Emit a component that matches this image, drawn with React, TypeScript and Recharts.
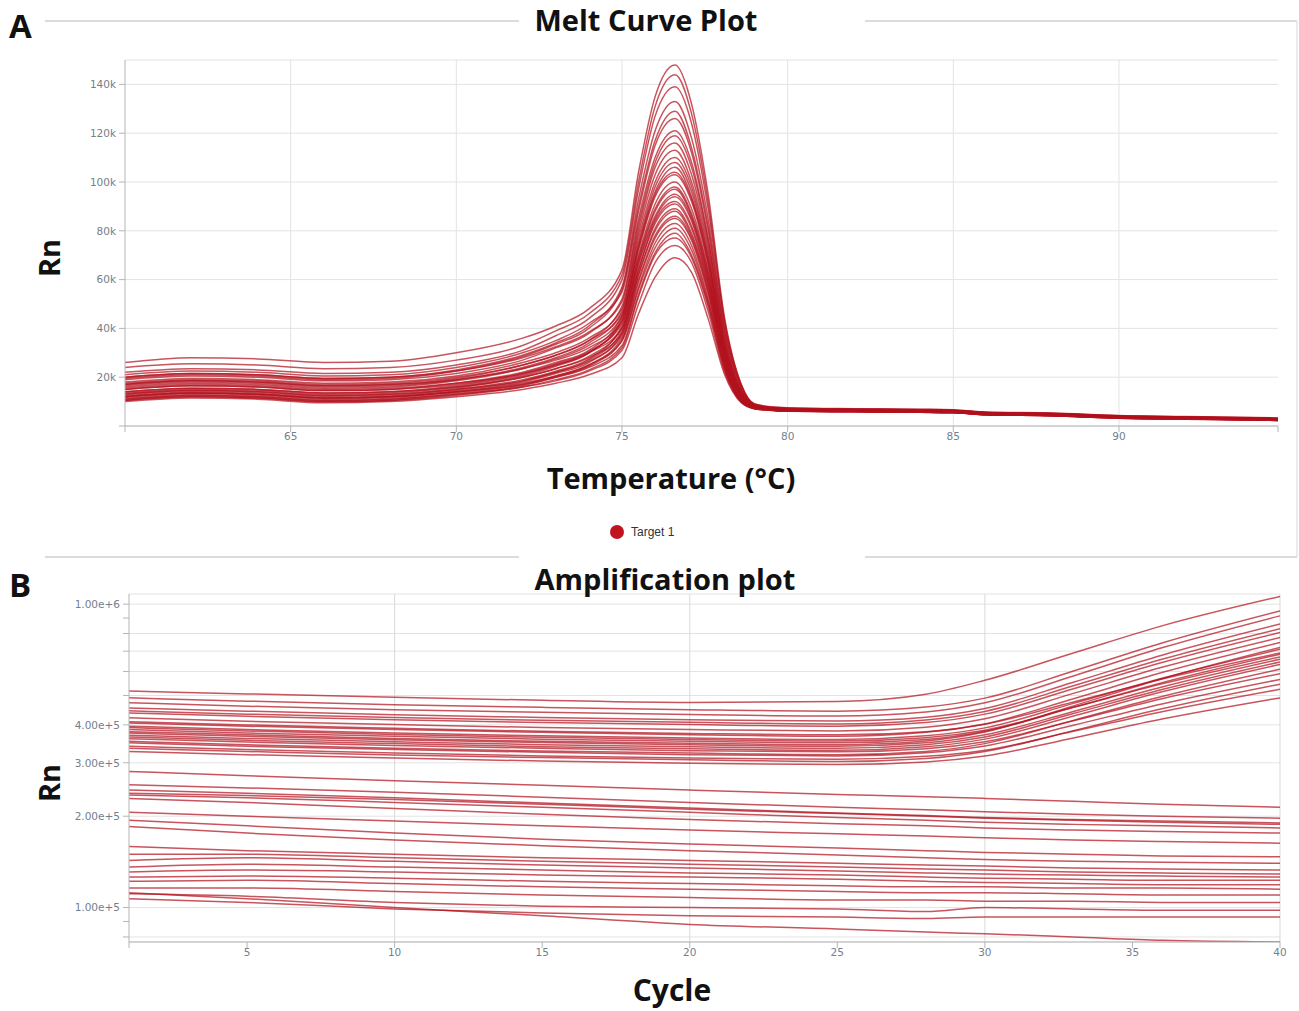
import React from 'react'
import { LineChart, Line, XAxis, YAxis, CartesianGrid, ReferenceLine } from 'recharts'

// ---- Panel A: melt curves (Rn in thousands) ----
const meltTemps = [60, 62, 64, 66, 68, 70, 72, 73, 74, 75, 75.5, 76, 76.6, 77.1, 77.6, 78.1, 78.6, 79, 79.5, 80, 82, 84, 85, 86, 88, 90, 92, 94.8]

const meltCurves = [
  [26, 28, 27.5, 26, 26.5, 30, 36, 41, 48, 64, 104, 135, 148, 132, 95, 44, 17, 9, 7.8, 7.4, 7, 6.8, 6.6, 5.6, 5.2, 4.2, 3.8, 3.2],
  [24, 25.5, 25, 23.5, 24, 27, 33, 39, 46, 62, 100, 131, 144, 128, 92, 43, 17, 9, 7.9, 7.5, 7.1, 6.9, 6.7, 5.7, 5.3, 4.3, 3.9, 3.3],
  [22, 23.5, 23, 21.5, 22, 25, 31, 37, 44, 60, 97, 127, 139, 124, 89, 42, 16, 8.8, 7.6, 7.2, 6.9, 6.7, 6.5, 5.5, 5.1, 4.1, 3.7, 3.1],
  [20, 21.5, 21, 19.5, 20, 23, 29, 34, 41, 57, 93, 121, 133, 118, 85, 40, 16, 8.6, 7.5, 7.1, 6.8, 6.6, 6.4, 5.4, 5.0, 4.0, 3.6, 3.0],
  [19.5, 21, 20.5, 19, 19.5, 22.5, 28.5, 33.5, 40, 56, 90, 117, 129, 114, 82, 39, 15.5, 8.6, 7.5, 7.1, 6.8, 6.6, 6.4, 5.4, 5.0, 4.0, 3.6, 3.0],
  [21, 22.5, 22, 20.5, 21, 24, 30, 35, 42, 55, 88, 115, 126, 112, 80, 38, 15, 8.5, 7.4, 7.0, 6.7, 6.5, 6.3, 5.4, 5.0, 4.0, 3.6, 3.0],
  [19, 20.5, 20, 18.5, 19, 21.5, 27, 32, 38, 52, 85, 110, 121, 108, 77, 36, 14, 8.3, 7.3, 6.9, 6.6, 6.4, 6.2, 5.3, 4.9, 3.9, 3.5, 2.9],
  [20, 21.5, 21, 19.5, 20, 22.5, 28, 32.5, 38.5, 51, 83, 108, 119, 106, 76, 36, 14, 8.3, 7.3, 6.9, 6.6, 6.4, 6.2, 5.3, 4.9, 3.9, 3.5, 2.9],
  [17, 18.5, 18, 16.5, 17, 19.5, 25, 29, 35, 49, 81, 106, 116, 103, 74, 34, 14, 8.2, 7.2, 6.8, 6.5, 6.3, 6.1, 5.2, 4.8, 3.8, 3.4, 2.9],
  [16.5, 18, 17.5, 16, 16.5, 19, 24, 28, 34, 47, 79, 103, 113, 100, 72, 34, 13.5, 8.2, 7.2, 6.8, 6.5, 6.3, 6.1, 5.2, 4.8, 3.8, 3.4, 2.9],
  [18, 19.5, 19, 17.5, 18, 20.5, 26, 30, 36, 48, 77, 100, 110, 98, 70, 33, 13, 8.1, 7.1, 6.7, 6.4, 6.2, 6.0, 5.1, 4.7, 3.8, 3.4, 2.8],
  [17.5, 19, 18.5, 17, 17.5, 20, 25, 29, 35, 46, 75, 98, 108, 96, 69, 32, 13, 8.1, 7.1, 6.7, 6.4, 6.2, 6.0, 5.1, 4.7, 3.8, 3.4, 2.8],
  [15, 16.5, 16, 14.5, 15, 17.5, 22, 26, 31, 45, 74, 96, 106, 94, 68, 32, 13, 8.0, 7.0, 6.6, 6.4, 6.2, 6.0, 5.1, 4.7, 3.7, 3.3, 2.8],
  [13.5, 15, 14.5, 13, 13.5, 16, 20.5, 24.5, 30, 44, 73, 95, 104, 93, 67, 31, 12.5, 7.9, 7.0, 6.6, 6.4, 6.2, 6.0, 5.0, 4.6, 3.7, 3.3, 2.7],
  [16, 17.5, 17, 15.5, 16, 18.5, 23.5, 27.5, 33, 45, 72, 94, 103, 92, 66, 31, 12.5, 7.9, 7.0, 6.6, 6.3, 6.1, 5.9, 5.0, 4.6, 3.7, 3.3, 2.7],
  [14, 15.5, 15, 13.5, 14, 16.5, 21, 25, 30, 43, 70, 91, 100, 89, 64, 30, 12, 7.8, 6.9, 6.5, 6.3, 6.1, 5.9, 5.0, 4.6, 3.6, 3.2, 2.7],
  [17, 18.5, 18, 16.5, 17, 19, 23.5, 27, 32, 43, 69, 89, 98, 87, 63, 29.5, 12, 7.7, 6.9, 6.5, 6.2, 6.0, 5.8, 4.9, 4.5, 3.6, 3.2, 2.6],
  [15, 16.5, 16, 14.5, 15, 17, 21.5, 25.5, 30.5, 42, 68, 88, 97, 86, 62, 29, 12, 7.7, 6.9, 6.5, 6.2, 6.0, 5.8, 4.9, 4.5, 3.6, 3.2, 2.6],
  [12.5, 14, 13.5, 12, 12.5, 15, 19, 22.5, 27.5, 41, 67, 86, 95, 85, 61, 28.5, 11.5, 7.6, 6.8, 6.4, 6.2, 6.0, 5.8, 4.9, 4.5, 3.5, 3.1, 2.6],
  [13, 14.5, 14, 12.5, 13, 15.5, 20, 23.5, 28.5, 40, 66, 85, 94, 84, 60, 28, 11.5, 7.6, 6.8, 6.4, 6.2, 6.0, 5.8, 4.9, 4.5, 3.5, 3.1, 2.6],
  [15.5, 17, 16.5, 15, 15.5, 17.5, 21.5, 25, 30, 40, 64, 84, 92, 82, 59, 27.5, 11, 7.5, 6.7, 6.3, 6.1, 5.9, 5.7, 4.8, 4.4, 3.5, 3.1, 2.5],
  [12, 13.5, 13, 11.5, 12, 14.5, 18.5, 22, 27, 39, 64, 83, 91, 81, 58, 27, 11, 7.5, 6.7, 6.3, 6.1, 5.9, 5.7, 4.8, 4.4, 3.5, 3.1, 2.5],
  [11.5, 13, 12.5, 11, 11.5, 14, 18, 21.5, 26, 38, 62, 81, 89, 79, 57, 26.5, 11, 7.5, 6.7, 6.3, 6.0, 5.8, 5.6, 4.8, 4.4, 3.4, 3.0, 2.5],
  [14, 15.5, 15, 13.5, 14, 16, 20, 23.5, 28, 38, 62, 80, 88, 78, 56, 26, 11, 7.5, 6.7, 6.3, 6.0, 5.8, 5.6, 4.8, 4.4, 3.4, 3.0, 2.5],
  [13, 14.5, 14, 12.5, 13, 15, 18.5, 22, 26.5, 37, 60, 78, 86, 77, 55, 25.5, 10.5, 7.4, 6.6, 6.2, 6.0, 5.8, 5.6, 4.7, 4.3, 3.4, 3.0, 2.4],
  [11, 12.5, 12, 10.5, 11, 13.5, 17, 20.5, 25, 36, 59, 77, 85, 76, 54, 25, 10.5, 7.4, 6.6, 6.2, 6.0, 5.8, 5.6, 4.7, 4.3, 3.4, 3.0, 2.4],
  [10.5, 12, 11.5, 10, 10.5, 13, 16.5, 20, 24.5, 35, 57, 75, 83, 74, 52, 24.5, 10, 7.3, 6.6, 6.2, 5.9, 5.7, 5.5, 4.7, 4.3, 3.3, 2.9, 2.4],
  [12, 13.5, 13, 11.5, 12, 14, 17.5, 20.5, 25, 35, 56, 73, 81, 72, 51, 24, 10, 7.3, 6.6, 6.2, 5.9, 5.7, 5.5, 4.7, 4.3, 3.3, 2.9, 2.4],
  [12, 13.5, 13, 11.5, 12, 14, 17, 20, 24, 33, 54, 71, 79, 70, 50, 23.5, 10, 7.2, 6.5, 6.1, 5.9, 5.7, 5.5, 4.6, 4.2, 3.3, 2.9, 2.3],
  [10.5, 12, 11.5, 10, 10.5, 12.5, 16, 19, 23, 32, 53, 70, 77, 69, 49, 23, 10, 7.2, 6.5, 6.1, 5.9, 5.7, 5.5, 4.6, 4.2, 3.3, 2.9, 2.3],
  [11, 12.5, 12, 10.5, 11, 13, 16, 18.5, 22.5, 31, 50, 67, 74, 67, 47, 22, 9.8, 7.1, 6.5, 6.1, 5.8, 5.6, 5.4, 4.6, 4.2, 3.2, 2.8, 2.3],
  [10, 11.5, 11, 9.5, 10, 12, 15, 17.5, 21, 28, 46, 61, 69, 63, 44, 21, 9.5, 7.0, 6.4, 6.0, 5.8, 5.6, 5.4, 4.6, 4.2, 3.2, 2.8, 2.3],
]

const meltXTicks = [60, 65, 70, 75, 80, 85, 90, 94.8]
const meltXLabels = [65, 70, 75, 80, 85, 90]
const meltYTicks = [0, 20, 40, 60, 80, 100, 120, 140]

// ---- Panel B: amplification curves (Rn in thousands, log scale) ----
const cycles = [1, 5, 10, 15, 20, 25, 28, 30, 33, 36, 40]

const ampUpper = [
  [517, 506, 493, 482, 474, 478, 505, 561, 690, 848, 1060],
  [491, 479, 466, 457, 449, 444, 458, 490, 602, 745, 950],
  [473, 461, 449, 440, 433, 428, 441, 473, 580, 718, 915],
  [455, 444, 432, 423, 416, 412, 424, 453, 553, 679, 860],
  [445, 434, 423, 414, 408, 403, 415, 443, 538, 658, 830],
  [438, 427, 416, 407, 401, 396, 407, 434, 526, 642, 806],
  [422, 411, 401, 392, 386, 382, 393, 419, 508, 619, 776],
  [410, 400, 390, 381, 375, 371, 380, 402, 476, 566, 690],
  [406, 396, 386, 378, 371, 367, 378, 403, 488, 595, 747],
  [396, 386, 376, 368, 362, 358, 368, 391, 471, 570, 710],
  [392, 382, 372, 364, 358, 354, 363, 384, 457, 546, 670],
  [386, 376, 367, 359, 353, 349, 358, 381, 457, 551, 684],
  [380, 371, 361, 353, 348, 344, 354, 379, 462, 568, 720],
  [376, 367, 357, 350, 344, 340, 349, 371, 443, 533, 658],
  [370, 361, 352, 344, 339, 335, 344, 365, 436, 523, 645],
  [365, 356, 347, 339, 334, 330, 339, 359, 428, 514, 633],
  [360, 351, 342, 335, 329, 326, 334, 352, 413, 488, 590],
  [353, 344, 335, 328, 323, 319, 327, 347, 414, 496, 610],
  [349, 340, 332, 325, 319, 316, 324, 341, 399, 469, 565],
  [340, 332, 323, 316, 311, 308, 315, 330, 381, 442, 524],
  [335, 327, 318, 312, 307, 303, 310, 327, 383, 452, 545],
  [327, 319, 311, 304, 299, 296, 302, 316, 362, 418, 491],
]

const ampLower = [
  [281, 272, 262, 253, 244, 236, 232, 229, 224, 219, 214],
  [254, 248, 240, 231, 222, 214, 210, 207, 203, 200, 197],
  [244, 238, 230, 221, 213, 205, 201, 198, 195, 193, 190],
  [238, 234, 227, 219, 211, 204, 200, 197, 194, 191, 188],
  [235, 230, 222, 214, 206, 198, 194, 191, 188, 186, 183],
  [229, 222, 212, 203, 195, 189, 186, 183, 180, 178, 176],
  [206, 200, 193, 186, 180, 175, 172, 170, 167, 165, 163],
  [194, 186, 176, 168, 162, 157, 154, 152, 150, 148, 147],
  [185, 176, 167, 160, 154, 149, 146, 144, 142, 141, 140],
  [159, 154, 150, 146, 143, 140, 138, 137, 135, 134, 133],
  [150, 150, 146, 142, 139, 136, 134, 133, 131, 130, 129],
  [143, 146, 142, 138, 135, 132, 130, 129, 128, 127, 126],
  [136, 139, 136, 133, 130, 128, 126, 125, 124, 123, 123],
  [131, 133, 131, 128, 126, 124, 122, 121, 120, 119, 119],
  [126, 127, 125, 122, 120, 118, 117, 117, 116, 116, 115],
  [122, 123, 120, 117, 115, 113, 112, 112, 111, 110, 110],
  [116, 116, 113, 110, 108, 106, 106, 105, 105, 104, 104],
  [111, 109, 104, 101, 100, 99, 97, 100, 99, 98, 98],
  [107, 104, 99, 96, 94, 93, 92, 93, 93, 93, 93],
  [112, 107, 100, 94, 88, 85, 83, 82, 80, 78, 77],
]

const ampXTicks = [1, 5, 10, 15, 20, 25, 30, 35, 40]
const ampXLabels = [5, 10, 15, 20, 25, 30, 35, 40]
const ampYTicks = [80, 90, 100, 200, 300, 400, 500, 600, 700, 800, 900, 1000]
const ampYLabels = [100, 200, 300, 400, 1000]

const LINE_RED = '#b3121f'
const GRID = '#e3e3e3'
const AXIS = '#b5b5b5'
const TICK_TEXT = { fill: '#72808d', fontSize: 10.5, fontFamily: 'DejaVu Sans, sans-serif' }
const HEAD_FONT = 'Open Sans, Noto Sans, sans-serif'

const meltData = meltTemps.map((t, i) => {
  const row: Record<string, number> = { t }
  meltCurves.forEach((c, k) => { row['m' + k] = c[i] })
  return row
})

const ampCurves = [...ampUpper, ...ampLower]
const ampData = cycles.map((c, i) => {
  const row: Record<string, number> = { c }
  ampCurves.forEach((s, k) => { row['a' + k] = s[i] })
  return row
})

function MeltChart() {
  return (
    <LineChart
      width={1299}
      height={470}
      data={meltData}
      margin={{ top: 60, right: 21, left: 0, bottom: 14 }}
    >
      <CartesianGrid vertical={false} stroke={GRID} />
      {meltXLabels.map(v => (
        <ReferenceLine key={v} x={v} stroke={GRID} />
      ))}
      <XAxis
        type="number"
        dataKey="t"
        domain={[60, 94.8]}
        ticks={meltXTicks}
        allowDataOverflow
        height={30}
        stroke={AXIS}
        tickSize={6}
        tickMargin={1}
        tick={TICK_TEXT}
        tickFormatter={(v: number) => (meltXLabels.includes(v) ? String(v) : '')}
      />
      <YAxis
        type="number"
        domain={[0, 150]}
        ticks={meltYTicks}
        allowDataOverflow
        width={125}
        stroke={AXIS}
        tickSize={6}
        tickMargin={3}
        tick={TICK_TEXT}
        tickFormatter={(v: number) => (v === 0 ? '' : `${v}k`)}
      />
      {meltCurves.map((_, k) => (
        <Line
          key={k}
          type="monotone"
          dataKey={'m' + k}
          stroke={LINE_RED}
          strokeOpacity={0.72}
          strokeWidth={1.5}
          dot={false}
          isAnimationActive={false}
        />
      ))}
    </LineChart>
  )
}

function AmpChart() {
  return (
    <LineChart
      width={1299}
      height={440}
      data={ampData}
      margin={{ top: 54, right: 19, left: 0, bottom: 8 }}
    >
      <CartesianGrid vertical={false} stroke={GRID} />
      {[10, 20, 30, 40].map(v => (
        <ReferenceLine key={v} x={v} stroke="#d9d9d9" />
      ))}
      <XAxis
        type="number"
        dataKey="c"
        domain={[1, 40]}
        ticks={ampXTicks}
        allowDataOverflow
        height={30}
        stroke={AXIS}
        tickSize={6}
        tickMargin={1}
        tick={TICK_TEXT}
        tickFormatter={(v: number) => (ampXLabels.includes(v) ? String(v) : '')}
      />
      <YAxis
        type="number"
        scale="log"
        domain={[77, 1080]}
        ticks={ampYTicks}
        allowDataOverflow
        width={129}
        stroke={AXIS}
        tickSize={6}
        tickMargin={3}
        tick={TICK_TEXT}
        tickFormatter={(v: number) => (ampYLabels.includes(v) ? (v * 1000).toExponential(2) : '')}
      />
      {ampCurves.map((_, k) => (
        <Line
          key={k}
          type="monotone"
          dataKey={'a' + k}
          stroke={LINE_RED}
          strokeOpacity={0.72}
          strokeWidth={1.5}
          dot={false}
          isAnimationActive={false}
        />
      ))}
    </LineChart>
  )
}

export default function App() {
  return (
    <div style={{ position: 'absolute', left: 0, top: 0, width: 1299, height: 1011, background: '#fff' }}>
      <div style={{ position: 'absolute', left: 0, top: 0 }}>
        <MeltChart />
      </div>
      <div style={{ position: 'absolute', left: 0, top: 540 }}>
        <AmpChart />
      </div>
      <svg
        width={1299}
        height={1011}
        style={{ position: 'absolute', left: 0, top: 0, pointerEvents: 'none' }}
      >
        {/* panel frame lines */}
        <line x1={45} y1={21} x2={519} y2={21} stroke="#dcdcdc" strokeWidth={2} />
        <line x1={865} y1={21} x2={1297} y2={21} stroke="#dcdcdc" strokeWidth={2} />
        <line x1={1297} y1={21} x2={1297} y2={557} stroke="#e4e4e4" strokeWidth={1.5} />
        <line x1={45} y1={557} x2={519} y2={557} stroke="#dcdcdc" strokeWidth={2} />
        <line x1={865} y1={557} x2={1297} y2={557} stroke="#dcdcdc" strokeWidth={2} />

        <g fontFamily={HEAD_FONT} fontWeight={700} fill="#111">
          <text x={9} y={38} fontSize={33}>A</text>
          <text x={9} y={597} fontSize={33}>B</text>
          <text x={646} y={31} fontSize={29} textAnchor="middle">Melt Curve Plot</text>
          <text x={671} y={489} fontSize={29} textAnchor="middle">Temperature (°C)</text>
          <text x={665} y={590} fontSize={29} textAnchor="middle">Amplification plot</text>
          <text x={672} y={1001} fontSize={30} textAnchor="middle">Cycle</text>
          <text x={60} y={258} fontSize={29} textAnchor="middle" transform="rotate(-90 60 258)">Rn</text>
          <text x={60} y={783} fontSize={29} textAnchor="middle" transform="rotate(-90 60 783)">Rn</text>
        </g>

        {/* legend */}
        <circle cx={617} cy={532} r={7} fill="#c0141f" />
        <text x={631} y={536} fontSize={12} fill="#333" fontFamily="Liberation Sans, Arial, sans-serif">Target 1</text>
      </svg>
    </div>
  )
}
